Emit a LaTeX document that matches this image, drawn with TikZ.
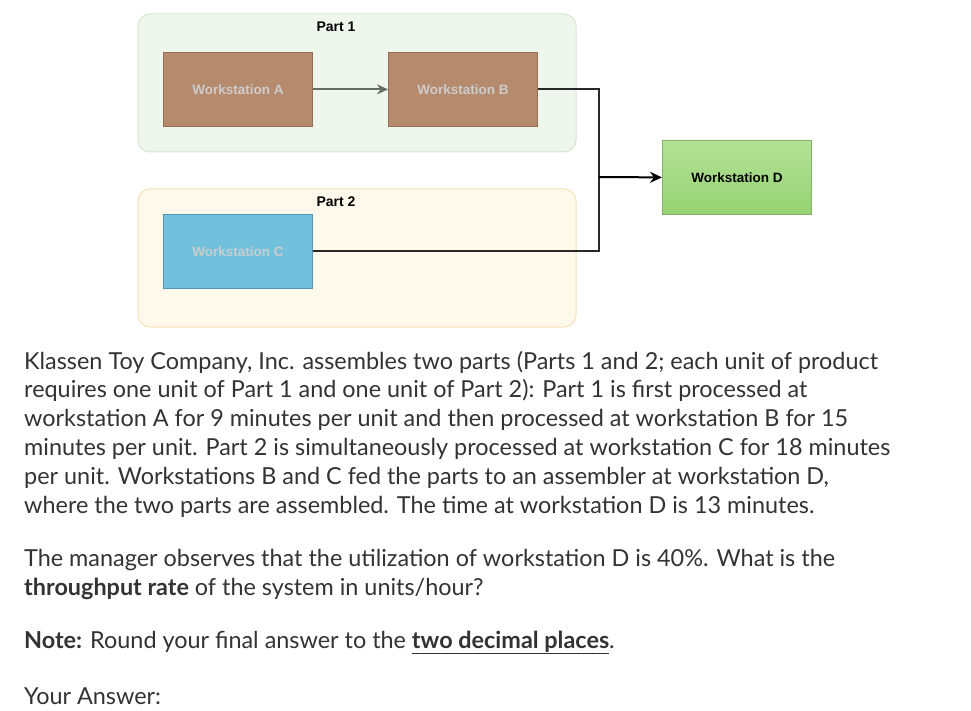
\documentclass[tikz,border=0pt]{standalone}
\usepackage{fontspec}
\setmainfont{Lato}
\newfontfamily\lab{Liberation Sans}
\usetikzlibrary{arrows.meta}
\definecolor{txt}{HTML}{333333}
\begin{document}
\begin{tikzpicture}[x=1pt,y=-1pt,
  cont/.style={rounded corners=12pt,line width=1pt},
  ws/.style={minimum width=149pt,minimum height=74pt,anchor=north west,inner sep=0pt,font=\lab\bfseries\fontsize{13.5}{15}\selectfont,line width=0.8pt},
  lbl/.style={font=\lab\bfseries\fontsize{14}{16}\selectfont},
  para/.style={anchor=base west,inner sep=0pt,font=\fontsize{23.4}{28}\selectfont,text=txt},
  conn/.style={line width=2pt}]
\useasboundingbox[fill=white] (0,0) rectangle (971,711);
\draw[cont,fill={rgb,255:red,239;green,246;blue,236},draw={rgb,255:red,214;green,232;blue,205}] (138,14) rectangle (576,152);
\draw[cont,fill={rgb,255:red,255;green,249;blue,235},draw={rgb,255:red,248;green,226;blue,184}] (138,189) rectangle (576,327);
\node[lbl] (p1) at (336,27) {Part 1};
\node[lbl] (p2) at (336,202) {Part 2};
\node[ws,fill={rgb,255:red,182;green,139;blue,109},draw={rgb,255:red,150;green,110;blue,80},text=white!80!black] (a) at (163,52) {Workstation A};
\node[ws,fill={rgb,255:red,182;green,139;blue,109},draw={rgb,255:red,150;green,110;blue,80},text=white!80!black] (b) at (388,52) {Workstation B};
\node[ws,fill={rgb,255:red,113;green,193;blue,220},draw={rgb,255:red,80;green,150;blue,180},text=white!80!black] (c) at (163,214) {Workstation C};
\node[ws,top color={rgb,255:red,180;green,225;blue,150},bottom color={rgb,255:red,150;green,210;blue,115},draw={rgb,255:red,130;green,179;blue,102},text=black] (d) at (662,140) {Workstation D};
\coordinate (j) at (599,177);
\draw[conn,draw={rgb,255:red,100;green,110;blue,100},-{Stealth[length=11pt,width=10pt]}] (a) -- (b);
\draw[conn,draw={rgb,255:red,40;green,40;blue,40}] (b.east) -| (j);
\draw[conn,draw={rgb,255:red,40;green,40;blue,40}] (c.east) -| (j);
\draw[conn,-{Stealth[length=12pt,width=11pt]}] (j) -- (d.west);
\node[para] (l1) at (24,369) {Klassen Toy Company, Inc. assembles two parts (Parts 1 and 2; each unit of product};
\node[para] (l2) at (24,397) {requires one unit of Part 1 and one unit of Part 2): Part 1 is first processed at};
\node[para] (l3) at (24,426) {workstation A for 9 minutes per unit and then processed at workstation B for 15};
\node[para] (l4) at (24,455) {minutes per unit. Part 2 is simultaneously processed at workstation C for 18 minutes};
\node[para] (l5) at (24,484) {per unit. Workstations B and C fed the parts to an assembler at workstation D,};
\node[para] (l6) at (24,513) {where the two parts are assembled. The time at workstation D is 13 minutes.};
\node[para] (l7) at (24,566) {The manager observes that the utilization of workstation D is 40\%. What is the};
\node[para] (l8) at (24,595) {\textbf{throughput rate} of the system in units/hour?};
\node[para] (l9) at (24,648) {\textbf{Note:} Round your final answer to the \textbf{\underline{two decimal places}}.};
\node[para] (l10) at (24,704) {Your Answer:};
\end{tikzpicture}
\end{document}
